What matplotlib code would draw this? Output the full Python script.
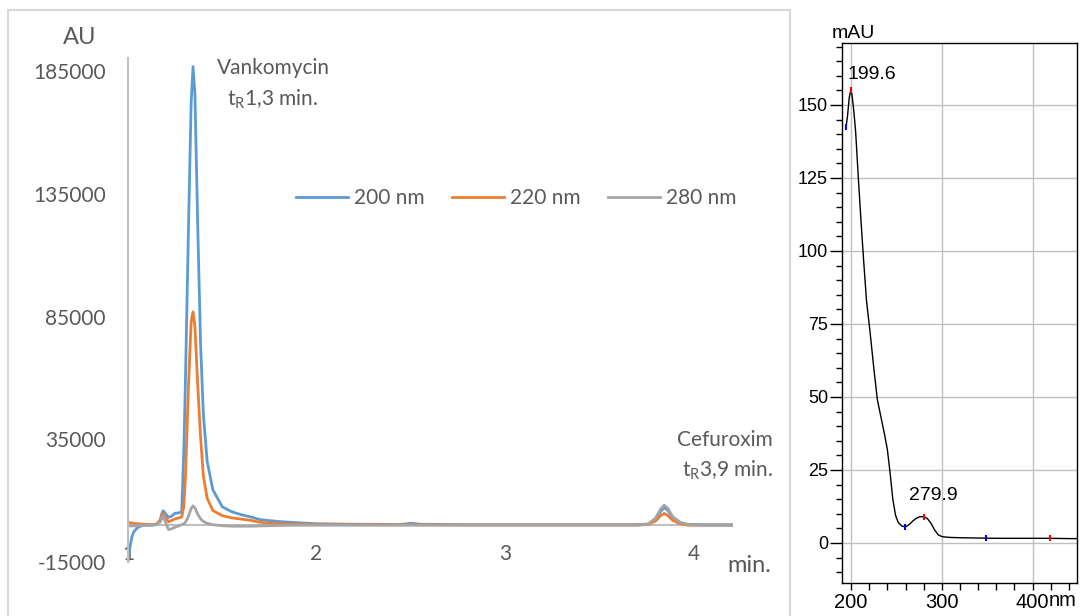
import matplotlib
matplotlib.use("Agg")
import matplotlib.pyplot as plt
from matplotlib.patches import Rectangle
from matplotlib.ticker import MultipleLocator

plt.rcParams['font.family'] = ['Lato', 'DejaVu Sans']
plt.rcParams['mathtext.default'] = 'regular'

# chromatogram (time in min, signal in AU)
time_min = [1.00, 1.01, 1.02, 1.03, 1.05, 1.08, 1.12, 1.15, 1.17, 1.18, 1.187, 1.20,
            1.215, 1.23, 1.25, 1.27, 1.285, 1.296, 1.305, 1.32, 1.335, 1.345, 1.355,
            1.37, 1.385, 1.40, 1.42, 1.45, 1.50, 1.55, 1.60, 1.65, 1.70, 1.80, 1.90,
            2.00, 2.20, 2.45, 2.50, 2.55, 2.80, 3.00, 3.30, 3.50, 3.70, 3.76, 3.80,
            3.825, 3.845, 3.865, 3.89, 3.93, 3.97, 4.05, 4.21]
au_200 = [-15000, -9000, -5000, -2800, -1000, 0, 0, 300, 2000, 4800, 5900, 4600,
          3200, 3600, 4900, 5000, 5600, 30000, 60000, 118000, 172000, 187000, 176000,
          122000, 74000, 45000, 26000, 14500, 7500, 5500, 4300, 3400, 2300, 1500, 1000,
          600, 400, 300, 800, 400, 200, 200, 200, 200, 200, 500, 2500,
          5500, 7200, 6000, 3000, 1000, 400, 200, 200]
au_220 = [1200, 1000, 900, 800, 600, 400, 300, 400, 1800, 3800, 4800, 3000,
          1400, 1900, 2600, 3000, 3400, 7500, 20000, 55000, 83000, 87000, 81000,
          57000, 36000, 20000, 11000, 6000, 3900, 3000, 2500, 2000, 1200, 600, 400,
          300, 200, 200, 200, 200, 100, 100, 100, 100, 100, 300, 1800,
          3800, 4800, 3900, 2000, 600, 0, 0, 0]
au_280 = [-300, -300, -300, -300, -200, -100, 0, 200, 1200, 2800, 3900, 1000,
          -1800, -1500, -800, -300, 300, 600, 1200, 3500, 6800, 7900, 7000,
          4500, 2600, 1500, 800, 200, -200, -400, -400, -400, -300, -100, 0,
          0, 0, 0, 0, 0, 0, 0, 0, 0, 0, 400, 3000,
          6500, 8200, 6800, 3500, 1200, 300, 0, 0]
series_labels = ['200 nm', '220 nm', '280 nm']
series_colors = ['#5B9BD5', '#ED7D31', '#A5A5A5']
au_ticks = [-15000, 35000, 85000, 135000, 185000]
min_ticks = [1, 2, 3, 4]

# UV spectrum
wl = [194.5, 196, 198, 199.6, 201, 203, 205, 208, 211, 214, 217, 221, 225, 229, 233,
      237, 240, 243, 246, 249, 252, 256, 260, 264, 268, 272, 276, 280, 284, 288, 292,
      296, 300, 305, 310, 320, 340, 360, 380, 400, 420, 440, 449]
mau = [142.5, 146, 152.5, 155, 153.5, 148, 141, 125, 110, 96, 83, 72, 60, 49, 43,
       37, 32, 24, 15, 9.5, 7, 5.8, 5.5, 6.3, 7.5, 8.5, 9, 9, 8.4, 6.8, 4.5,
       2.8, 2.2, 2.0, 1.9, 1.8, 1.7, 1.6, 1.6, 1.6, 1.6, 1.5, 1.5]
max_wl = [199.6, 279.9, 419]
max_mau = [155, 9, 1.6]
min_wl = [194.5, 259.5, 349]
min_mau = [142.5, 5.5, 1.6]

grey = '#595959'

fig = plt.figure(figsize=(10.81, 6.16), dpi=100)

# frame around the left chart
fig.patches.append(Rectangle((8 / 1081, -0.1), 782 / 1081, 1.1 - 10 / 616,
                             transform=fig.transFigure, fill=False,
                             edgecolor='#D9D9D9', linewidth=1.5))

ax1 = fig.add_axes([128 / 1081, 1 - 562 / 616, 605 / 1081, 504 / 616])
for vals, lab, col in zip([au_200, au_220, au_280], series_labels, series_colors):
    ax1.plot(time_min, vals, color=col, lw=2, label=lab, solid_joinstyle='round')
ax1.axhline(0, color='#BFBFBF', lw=1.5, zorder=0)
ax1.set_xlim(1, 4.21)
ax1.set_ylim(-15000, 190500)
for s in ['top', 'right', 'bottom']:
    ax1.spines[s].set_visible(False)
ax1.spines['left'].set_color('#BFBFBF')
ax1.spines['left'].set_linewidth(1.5)
ax1.set_yticks(au_ticks)
ax1.set_yticklabels([str(v) for v in au_ticks])
ax1.set_xticks(min_ticks)
ax1.set_xticklabels([str(v) for v in min_ticks])
ax1.tick_params(axis='y', length=0, pad=16, labelsize=15, labelcolor=grey)
ax1.tick_params(axis='x', length=0, pad=-13, labelsize=15, labelcolor=grey)

fig.text(80 / 1081, 1 - 37 / 616, 'AU', fontsize=17, color=grey, ha='center', va='center')
fig.text(727 / 1081, 1 - 565 / 616, 'min.', fontsize=17, color=grey, ha='left', va='center')
fig.text(273 / 1081, 1 - 68 / 616, 'Vankomycin', fontsize=15, color=grey, ha='center', va='center')
fig.text(273 / 1081, 1 - 99 / 616, r't$_R$1,3 min.', fontsize=15, color=grey, ha='center', va='center')
fig.text(773 / 1081, 1 - 440 / 616, 'Cefuroxim', fontsize=15, color=grey, ha='right', va='center')
fig.text(773 / 1081, 1 - 470 / 616, r't$_R$3,9 min.', fontsize=15, color=grey, ha='right', va='center')

leg = ax1.legend(loc='center left', bbox_to_anchor=(296 / 1081, 1 - 198 / 616),
                 bbox_transform=fig.transFigure, ncol=3, frameon=False,
                 handlelength=2.5, handletextpad=0.3, columnspacing=1.3,
                 borderpad=0, borderaxespad=0, fontsize=15)
for t in leg.get_texts():
    t.set_color(grey)

# spectrum panel
arial = 'Liberation Sans'
ax2 = fig.add_axes([842 / 1081, 1 - 583 / 616, 235 / 1081, 540 / 616])
ax2.plot(wl, mau, color='black', lw=1)
ax2.plot(max_wl, max_mau, ls='none', marker='|', color='red', ms=5, mew=1.5)
ax2.plot(min_wl, min_mau, ls='none', marker='|', color='blue', ms=5, mew=1.5)
ax2.set_xlim(190, 449)
ax2.set_ylim(-13.7, 171.2)
ax2.set_xticks([200, 300, 400])
ax2.set_xticks(range(200, 441, 20), minor=True)
ax2.set_yticks([0, 25, 50, 75, 100, 125, 150])
ax2.set_yticks(range(-10, 171, 5), minor=True)
ax2.grid(True, which='major', color='#C0C0C0', lw=1)
ax2.set_axisbelow(True)
for s in ax2.spines.values():
    s.set_linewidth(1)
ax2.tick_params(axis='y', which='major', length=9, width=1, pad=1, labelsize=13)
ax2.tick_params(axis='y', which='minor', length=4.5, width=1)
ax2.tick_params(axis='x', which='both', length=5, width=1, pad=2, labelsize=14.5)
for lab in ax2.get_xticklabels() + ax2.get_yticklabels():
    lab.set_family(arial)

fig.text(853 / 1081, 1 - 33 / 616, 'mAU', fontsize=14, family=arial, ha='center', va='center')
fig.text(1049 / 1081, 1 - 601 / 616, 'nm', fontsize=14.5, family=arial, ha='left', va='center')
ax2.text(195.6, 160.3, '199.6', fontsize=14, family=arial, ha='left', va='center')
ax2.text(290.4, 16.1, '279.9', fontsize=14, family=arial, ha='center', va='center')

fig.savefig('out.png', dpi=100)
